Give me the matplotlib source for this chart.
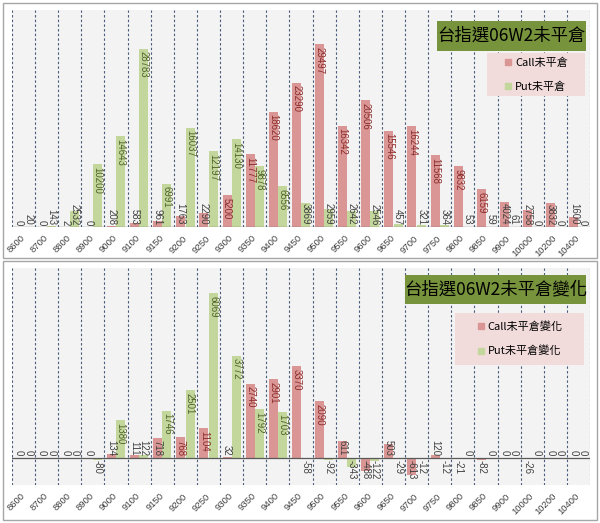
import matplotlib.pyplot as plt
from matplotlib.patches import Rectangle
from matplotlib.lines import Line2D
import numpy as np

plt.rcParams['font.family'] = ['Noto Sans CJK TC', 'DejaVu Sans']

strikes = ["8600", "8700", "8800", "8900", "9000", "9100", "9150", "9200", "9250",
           "9300", "9350", "9400", "9450", "9500", "9550", "9600", "9650", "9700",
           "9750", "9800", "9850", "9900", "10000", "10200", "10400"]

call_oi = [0, 0, 2, 0, 208, 583, 961, 1763, 2290, 5200, 11777, 18620, 23290, 29497,
           16342, 20506, 15546, 16244, 11568, 9832, 6159, 4024, 2758, 3832, 1600]
put_oi = [20, 143, 2532, 10200, 14643, 28783, 6991, 16037, 12197, 14130, 9878, 6556,
          3869, 2959, 2642, 2546, 457, 321, 364, 53, 59, 61, 0, 0, 0]

call_chg = [0, 0, 0, 0, 134, 111, 718, 768, 1104, 32, 2740, 2901, 3370, 2090, 611,
            -488, 503, -613, 120, -21, -82, 0, -26, 0, 0]
put_chg = [0, 0, 0, -80, 1380, 122, 1746, 2501, 6069, 3772, 1792, 1703, -58, -92,
           -343, -122, -29, -12, -12, 0, 0, 0, 0, 0, 0]

CALL_COLOR = "#D99694"
PUT_COLOR = "#C3D69B"
CALL_TEXT = "#8B2B2B"
PUT_TEXT = "#4F6228"
TITLE_BG = "#77933C"
LEGEND_BG = "#F2DCDB"
W, H = 600, 523


def px(x0, y0, x1, y1):
    # pixel box (top-left origin) -> figure fraction rect
    return [x0 / W, 1 - y1 / H, (x1 - x0) / W, (y1 - y0) / H]


def label_bars(ax, xs, vals, ylim, ax_h, inside_color):
    ppu = ax_h / (ylim[1] - ylim[0])
    for x, v in zip(xs, vals):
        txt = str(v)
        need = len(txt) * 5.4 + 4
        kw = dict(rotation=270, ha="center", fontsize=6.9, textcoords="offset points",
                  family=["Liberation Sans", "DejaVu Sans"])
        if v > 0 and v * ppu > need:
            ax.annotate(txt, (x, v), xytext=(0, -2), va="top", color=inside_color, **kw)
        elif v >= 0:
            ax.annotate(txt, (x, 0), xytext=(0, 1.5), va="bottom", color="#404040", **kw)
        else:
            ax.annotate(txt, (x, 0), xytext=(0, -1.5), va="top", color="#404040", **kw)


def draw_panel(fig, rect, calls, puts, ylim, title, names, title_box, leg_box):
    ax = fig.add_axes(rect)
    ax.set_facecolor("#F3F3F3")
    x = np.arange(len(strikes))
    w = 0.39
    ax.bar(x - 0.2, calls, w, color=CALL_COLOR, zorder=3)
    ax.bar(x + 0.2, puts, w, color=PUT_COLOR, zorder=3)
    for b in np.arange(-0.5, len(strikes)):
        ax.axvline(b, color="#4A5D7A", lw=0.8, dashes=(2.2, 2), zorder=2)
    ax.set_xlim(-0.5, len(strikes) - 0.5)
    ax.set_ylim(*ylim)
    ax.set_yticks([])
    ax.set_xticks(x)
    ax.set_xticklabels(strikes, rotation=45, ha="right", va="center",
                       rotation_mode="anchor", fontsize=6.8, color="#404040",
                       family=["Liberation Sans", "DejaVu Sans"])
    ax.tick_params(axis="x", length=0, pad=7)
    for s in ["top", "left", "right", "bottom"]:
        ax.spines[s].set_visible(False)
    ax.axhline(0, color="#595959", lw=0.9, zorder=4)

    ax_h = rect[3] * H
    label_bars(ax, x - 0.2, calls, ylim, ax_h, CALL_TEXT)
    label_bars(ax, x + 0.2, puts, ylim, ax_h, PUT_TEXT)

    # title box
    tx0, ty0, tx1, ty1 = title_box
    fig.patches.append(Rectangle((tx0 / W, 1 - ty1 / H), (tx1 - tx0) / W, (ty1 - ty0) / H,
                                 transform=fig.transFigure, facecolor=TITLE_BG,
                                 edgecolor="none", zorder=5))
    fig.text((tx0 + tx1) / 2 / W, 1 - (ty0 + ty1) / 2 / H, title, ha="center",
             va="center", fontsize=12.5, color="black", zorder=6)

    # legend box
    lx0, ly0, lx1, ly1 = leg_box
    fig.patches.append(Rectangle((lx0 / W, 1 - ly1 / H), (lx1 - lx0) / W, (ly1 - ly0) / H,
                                 transform=fig.transFigure, facecolor=LEGEND_BG,
                                 edgecolor="none", zorder=5))
    handles = [Line2D([], [], marker="s", ls="none", color=CALL_COLOR, markersize=5),
               Line2D([], [], marker="s", ls="none", color=PUT_COLOR, markersize=5)]
    leg = fig.legend(handles, names, loc="center", frameon=False, fontsize=8,
                     labelspacing=1.2, handletextpad=0.2, handlelength=0.8,
                     bbox_to_anchor=((lx0 + lx1) / 2 / W, 1 - (ly0 + ly1) / 2 / H),
                     bbox_transform=fig.transFigure)
    leg.set_zorder(7)
    return ax


fig = plt.figure(figsize=(6, 5.23), dpi=100)
fig.patch.set_facecolor("white")

# panel borders
for (y0, y1) in [(3, 258), (261, 520)]:
    fig.patches.append(Rectangle((3 / W, 1 - y1 / H), 594 / W, (y1 - y0) / H,
                                 transform=fig.transFigure, facecolor="none",
                                 edgecolor="#A6A6A6", lw=1))

draw_panel(fig, px(12, 10, 590, 227), call_oi, put_oi, (0, 35000),
           "台指選06W2未平倉", ["Call未平倉", "Put未平倉"],
           (437, 21, 586, 51), (487, 53, 585, 96))
draw_panel(fig, px(12, 268, 590, 485), call_chg, put_chg, (-1000, 7000),
           "台指選06W2未平倉變化", ["Call未平倉變化", "Put未平倉變化"],
           (405, 275, 586, 304), (455, 313, 584, 365))

fig.savefig("out.png", dpi=100)
